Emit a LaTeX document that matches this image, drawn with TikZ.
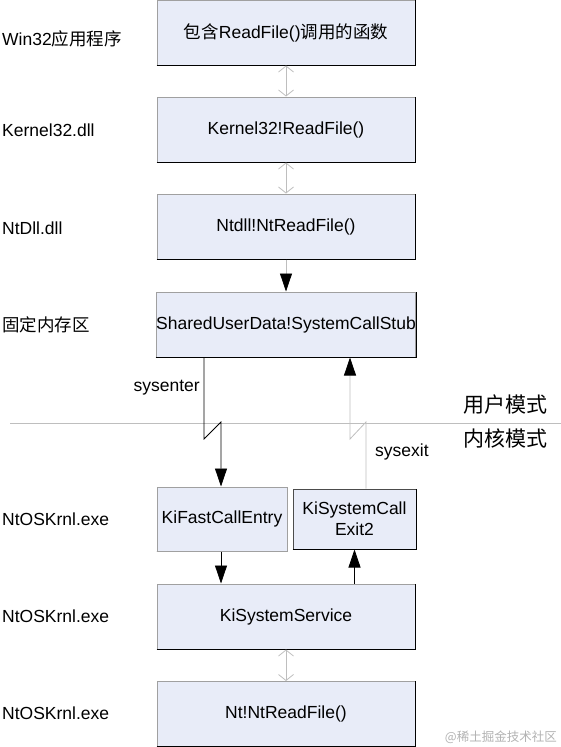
\documentclass[tikz,border=0pt]{standalone}
\usepackage{fontspec}
\setmainfont{Liberation Sans}
\newfontfamily\cjk{Noto Sans CJK SC}
\usetikzlibrary{arrows.meta}

\definecolor{boxfill}{RGB}{232,236,248}
\definecolor{edgegray}{RGB}{160,160,160}
\definecolor{linegray}{RGB}{190,190,190}

\tikzset{
  blk/.style = {draw=edgegray, fill=boxfill, line width=1pt,
    minimum width=258pt, minimum height=65pt, inner sep=0pt,
    font=\fontsize{17.5}{21}\selectfont,
    append after command={(\tikzlastnode.south west) edge[black, line width=1.2pt] (\tikzlastnode.south east)
      (\tikzlastnode.south east) edge[black, line width=1.2pt] (\tikzlastnode.north east)}},
  lbl/.style = {anchor=west, inner sep=0pt, font=\fontsize{17.5}{21}\selectfont},
  twoway/.style = {linegray, line width=0.8pt, {Straight Barb[length=6pt,width=15pt]}-{Straight Barb[length=6pt,width=15pt]}},
  oneway/.style = {line width=0.8pt, -{Triangle[length=18pt,width=12pt,color=black]}}
}

\begin{document}
\begin{tikzpicture}[x=1pt, y=-1pt]
\useasboundingbox (0,0) rectangle (561,747);

% user mode boxes
\node[blk] (app) at (286,32.5) {{\cjk 包含}ReadFile(){\cjk 调用的函数}};
\node[blk] (kernel) at (286,129.5) {Kernel32!ReadFile()};
\node[blk] (ntdll) at (286,226.5) {Ntdll!NtReadFile()};
\node[blk] (stub) at (286,324.5) {SharedUserData!SystemCallStub};

% kernel mode boxes
\node[blk, minimum width=130pt, minimum height=64pt,
  append after command={(\tikzlastnode.south west) edge[edgegray, line width=1pt] (\tikzlastnode.south east)
    (\tikzlastnode.south east) edge[edgegray, line width=1pt] (\tikzlastnode.north east)}] (fastcall) at (222,519) {KiFastCallEntry};
\node[blk, draw=black!70, minimum width=123pt, minimum height=60pt, align=center] (sysexit) at (354.5,519) {KiSystemCall\\Exit2};
\node[blk] (service) at (286,616.5) {KiSystemService};
\node[blk] (ntread) at (286,714) {Nt!NtReadFile()};

% left column
\node[lbl] (l1) at (2,39) {Win32{\cjk 应用程序}};
\node[lbl] (l2) at (2,130) {Kernel32.dll};
\node[lbl] (l3) at (2,228) {NtDll.dll};
\node[lbl] (l4) at (2,325) {\cjk 固定内存区};
\node[lbl] (l5) at (2,519) {NtOSKrnl.exe};
\node[lbl] (l6) at (2,616) {NtOSKrnl.exe};
\node[lbl] (l7) at (2,713) {NtOSKrnl.exe};

% mode boundary
\coordinate (bl) at (10,423);
\coordinate (br) at (561,423);
\draw[linegray, line width=1pt] (bl) -- (br);
\node[anchor=east, inner sep=0pt, font=\cjk\fontsize{21}{24}\selectfont] (user) at (548,405) {用户模式};
\node[anchor=east, inner sep=0pt, font=\cjk\fontsize{21}{24}\selectfont] (kmode) at (548,438) {内核模式};

% calls
\draw[twoway] (app) -- (kernel);
\draw[twoway] (kernel) -- (ntdll);
\draw[oneway, linegray] (ntdll) -- (stub);

\coordinate (jin) at (204,439);
\coordinate (jout) at (221,422);
\draw[oneway] (jin |- stub.south) -- (jin) -- (jout) -- (jout |- fastcall.north);
\node[anchor=east, inner sep=0pt, font=\fontsize{17.5}{21}\selectfont] (enter) at (200,388) {sysenter};

\coordinate (kin) at (366,422);
\coordinate (kout) at (350,439);
\draw[oneway, linegray] (kin |- sysexit.north) -- (kin) -- (kout) -- (kout |- stub.south);
\node[anchor=west, inner sep=0pt, font=\fontsize{17.5}{21}\selectfont] (exit) at (375,452) {sysexit};

\draw[oneway] (jout |- fastcall.south) -- (jout |- service.north);
\draw[oneway] (sysexit.south |- service.north) -- (sysexit.south);
\draw[twoway] (service) -- (ntread);

% watermark
\node[anchor=east, inner sep=0pt, text=black!30, font=\cjk\fontsize{12.5}{14}\selectfont] (mark) at (557,737) {@稀土掘金技术社区};
\end{tikzpicture}
\end{document}
